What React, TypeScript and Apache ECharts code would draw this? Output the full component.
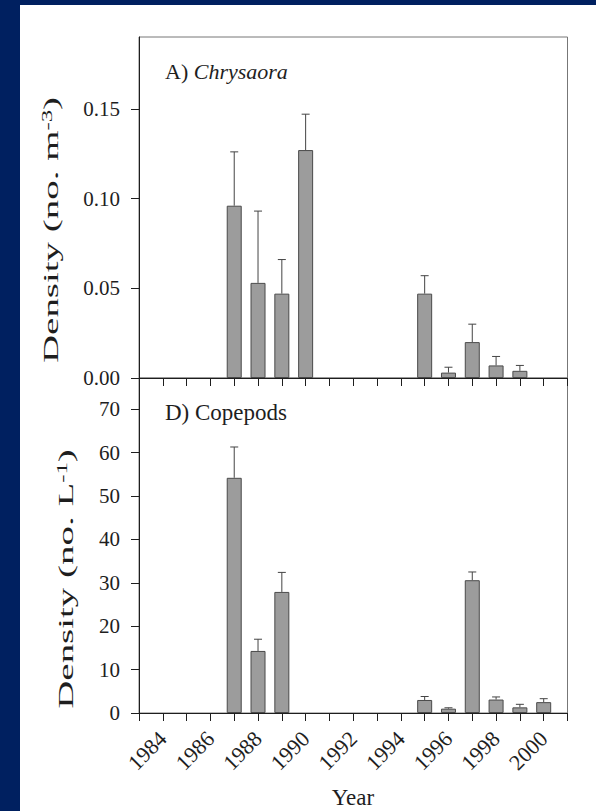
import React, { useEffect, useRef } from "react";
import * as echarts from "echarts";

// ---- data ----
const chrysaoraYears = [1987, 1988, 1989, 1990, 1995, 1996, 1997, 1998, 1999];
const chrysaoraMean = [0.096, 0.053, 0.047, 0.127, 0.047, 0.003, 0.02, 0.007, 0.004];
const chrysaoraUpper = [0.126, 0.093, 0.066, 0.147, 0.057, 0.006, 0.03, 0.012, 0.007];

const copepodYears = [1987, 1988, 1989, 1995, 1996, 1997, 1998, 1999, 2000];
const copepodMean = [54.2, 14.3, 27.9, 3.0, 1.0, 30.6, 3.1, 1.3, 2.5];
const copepodUpper = [61.3, 17.0, 32.4, 3.8, 1.2, 32.5, 3.7, 2.0, 3.3];

const yearMin = 1983;
const yearMax = 2001;
const yearLabels = [1984, 1986, 1988, 1990, 1992, 1994, 1996, 1998, 2000];
const chrysaoraTicks = [0, 0.05, 0.1, 0.15];
const chrysaoraMax = 0.19;
const copepodTicks = [0, 10, 20, 30, 40, 50, 60, 70];
const copepodMax = 77.2;

const FONT = "Liberation Serif";
const NAVY = "#002060";
const BAR_FILL = "#9c9c9c";
const BAR_EDGE = "#4a4a4a";
const INK = "#1e1e1e";

function errRender(params: any, api: any) {
  const x = api.value(0);
  const lo = api.coord([x, api.value(1)]);
  const hi = api.coord([x, api.value(2)]);
  const st = { stroke: "#444", lineWidth: 1 };
  return {
    type: "group",
    children: [
      { type: "line", shape: { x1: lo[0], y1: lo[1], x2: hi[0], y2: hi[1] }, style: st },
      { type: "line", shape: { x1: hi[0] - 4, y1: hi[1], x2: hi[0] + 4, y2: hi[1] }, style: st },
    ],
  };
}

export default function App() {
  const ref = useRef<HTMLDivElement>(null);
  useEffect(() => {
    if (!ref.current) return;
    const chart = echarts.init(ref.current, null, { renderer: "svg" });
    const xBase = (gridIndex: number, showLabels: boolean) => ({
      type: "value",
      gridIndex,
      min: yearMin,
      max: yearMax,
      interval: 1,
      splitLine: { show: false },
      axisLine: { show: true, onZero: false, lineStyle: { color: INK, width: 1 } },
      axisTick: { show: true, inside: false, length: 8, lineStyle: { color: INK } },
      axisLabel: showLabels
        ? {
            show: true,
            customValues: yearLabels,
            rotate: 45,
            margin: 22,
            fontFamily: FONT,
            fontSize: 22,
            color: INK,
            formatter: (v: number) => String(v),
          }
        : { show: false },
    });
    const yBase = (gridIndex: number, max: number, ticks: number[], fmt: (v: number) => string) => ({
      type: "value",
      gridIndex,
      min: 0,
      max,
      splitLine: { show: false },
      axisLine: { show: true, lineStyle: { color: INK, width: 1 } },
      axisTick: { show: true, inside: false, length: 8, customValues: ticks, lineStyle: { color: INK } },
      axisLabel: {
        show: true,
        customValues: ticks,
        margin: 19,
        fontFamily: FONT,
        fontSize: 21,
        color: INK,
        formatter: fmt,
      },
    });

    const titleRich = {
      n: { fontFamily: FONT, fontSize: 22, fill: INK },
      s: { fontFamily: FONT, fontSize: 14, fill: INK, verticalAlign: "top" },
    };

    const option: any = {
      animation: false,
      backgroundColor: NAVY,
      grid: [
        { left: 139, top: 37, width: 428.5, height: 341, show: true, borderColor: "#777", borderWidth: 1, backgroundColor: "transparent" },
        { left: 139, top: 378, width: 428.5, height: 335, show: true, borderColor: "#777", borderWidth: 1, backgroundColor: "transparent" },
      ],
      xAxis: [xBase(0, false), xBase(1, true)],
      yAxis: [
        yBase(0, chrysaoraMax, chrysaoraTicks, (v: number) => v.toFixed(2)),
        yBase(1, copepodMax, copepodTicks, (v: number) => String(Math.round(v))),
      ],
      graphic: [
        { type: "rect", z: -10, shape: { x: 20, y: 5, width: 576, height: 806 }, style: { fill: "#ffffff" }, silent: true },
        {
          type: "text",
          x: 165,
          y: 71,
          style: {
            text: "{n|A) }{i|Chrysaora}",
            verticalAlign: "middle",
            rich: {
              n: { fontFamily: FONT, fontSize: 22, fill: INK },
              i: { fontFamily: FONT, fontSize: 22, fontStyle: "italic", fill: INK },
            },
          },
        },
        {
          type: "text",
          x: 165,
          y: 412,
          style: { text: "D) Copepods", fontFamily: FONT, fontSize: 23, fill: INK, verticalAlign: "middle" },
        },
        {
          type: "text",
          x: 51,
          y: 230,
          rotation: Math.PI / 2,
          scaleX: 1.77,
          style: {
            text: "{n|Density (no. m}{s|-3}{n|)}",
            align: "center",
            verticalAlign: "middle",
            rich: titleRich,
          },
        },
        {
          type: "text",
          x: 66,
          y: 579,
          rotation: Math.PI / 2,
          scaleX: 1.77,
          style: {
            text: "{n|Density (no. L}{s|-1}{n|)}",
            align: "center",
            verticalAlign: "middle",
            rich: titleRich,
          },
        },
        {
          type: "text",
          x: 353,
          y: 797,
          style: { text: "Year", fontFamily: FONT, fontSize: 23, fill: INK, align: "center", verticalAlign: "middle" },
        },
      ],
      series: [
        {
          type: "bar",
          xAxisIndex: 0,
          yAxisIndex: 0,
          barWidth: 15,
          data: chrysaoraYears.map((y, i) => [y, chrysaoraMean[i]]),
          itemStyle: { color: BAR_FILL, borderColor: BAR_EDGE, borderWidth: 1 },
        },
        {
          type: "custom",
          xAxisIndex: 0,
          yAxisIndex: 0,
          renderItem: errRender,
          encode: { x: 0, y: [1, 2] },
          data: chrysaoraYears.map((y, i) => [y, chrysaoraMean[i], chrysaoraUpper[i]]),
          z: 1,
        },
        {
          type: "bar",
          xAxisIndex: 1,
          yAxisIndex: 1,
          barWidth: 15,
          data: copepodYears.map((y, i) => [y, copepodMean[i]]),
          itemStyle: { color: BAR_FILL, borderColor: BAR_EDGE, borderWidth: 1 },
        },
        {
          type: "custom",
          xAxisIndex: 1,
          yAxisIndex: 1,
          renderItem: errRender,
          encode: { x: 0, y: [1, 2] },
          data: copepodYears.map((y, i) => [y, copepodMean[i], copepodUpper[i]]),
          z: 1,
        },
      ],
    };
    chart.setOption(option);
    return () => chart.dispose();
  }, []);
  return (
    <div
      ref={ref}
      style={{ position: "fixed", left: 0, top: 0, width: 596, height: 811 }}
    />
  );
}
